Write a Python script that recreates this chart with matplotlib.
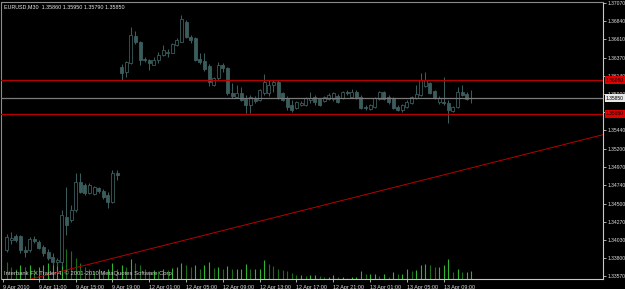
import matplotlib
matplotlib.use('Agg')
import matplotlib.pyplot as plt

W, H = 625, 289
BG = '#000000'
CANDLE = '#3a5c5c'
RED_LINE = '#b80000'
RED_BOX = '#e00000'
FONT = ['Liberation Sans', 'DejaVu Sans']
FS = 3.9
FS_PRICE = 3.6

symbol = 'EURUSD,M30'
last_ohlc = ['1.35860', '1.35950', '1.35790', '1.35850']
copyright_text = 'Interbank FX Trader 4, \u00a9 2001-2010 MetaQuotes Software Corp.'

# 30 minute bars, 9 Apr 2010 08:30 .. 13 Apr 2010 12:00 (weekend gap after bar 24)
opens = [1.3391, 1.3403, 1.3408, 1.3408, 1.3391, 1.3391, 1.3405, 1.3401, 1.3394, 1.3388,
         1.3382, 1.3375, 1.3375, 1.3433, 1.3429, 1.3442, 1.3478, 1.3474, 1.3464, 1.3462,
         1.3470, 1.3466, 1.3461, 1.3452, 1.3489,
         1.3625, 1.3619, 1.3630, 1.3665, 1.3657, 1.3635, 1.3634, 1.3628, 1.3634, 1.3640,
         1.3643, 1.3643, 1.3653, 1.3657, 1.3683, 1.3664, 1.3662, 1.3635, 1.3633, 1.3626,
         1.3602, 1.3611, 1.3628, 1.3624, 1.3592, 1.3587, 1.3592, 1.3584, 1.3576, 1.3585,
         1.3583, 1.3592, 1.3592, 1.3602, 1.3606, 1.3592, 1.3585, 1.3576, 1.3573, 1.3576,
         1.3576, 1.3583, 1.3587, 1.3584, 1.3582, 1.3584, 1.3584, 1.3588, 1.3585, 1.3593,
         1.3587, 1.3593, 1.3587, 1.3574, 1.3571, 1.3574, 1.3584, 1.3593, 1.3587, 1.3585,
         1.3574, 1.3570, 1.3574, 1.3579, 1.3585, 1.3589, 1.3601, 1.3605, 1.3594, 1.3580,
         1.3580, 1.3579, 1.3569, 1.3574, 1.3593, 1.3591, 1.3586]
highs = [1.3411, 1.3414, 1.3411, 1.3410, 1.3396, 1.3407, 1.3408, 1.3403, 1.3397, 1.3392,
         1.3387, 1.3380, 1.3442, 1.3471, 1.3448, 1.3489, 1.3489, 1.3476, 1.3476, 1.3473,
         1.3471, 1.3469, 1.3465, 1.3493, 1.3493,
         1.3629, 1.3633, 1.3676, 1.3671, 1.3658, 1.3638, 1.3635, 1.3638, 1.3644, 1.3653,
         1.3648, 1.3656, 1.3662, 1.3692, 1.3685, 1.3666, 1.3664, 1.3643, 1.3643, 1.3629,
         1.3612, 1.3632, 1.3630, 1.3625, 1.3605, 1.3602, 1.3599, 1.3589, 1.3589, 1.3588,
         1.3597, 1.3616, 1.3608, 1.3608, 1.3608, 1.3593, 1.3588, 1.3583, 1.3582, 1.3582,
         1.3587, 1.3593, 1.3589, 1.3585, 1.3588, 1.3592, 1.3593, 1.3591, 1.3594, 1.3596,
         1.3597, 1.3596, 1.3589, 1.3576, 1.3578, 1.3587, 1.3594, 1.3594, 1.3589, 1.3587,
         1.3576, 1.3578, 1.3583, 1.3588, 1.3602, 1.3617, 1.3619, 1.3606, 1.3596, 1.3588,
         1.3612, 1.3583, 1.3575, 1.3599, 1.3602, 1.3593, 1.3595]
lows = [1.3388, 1.3398, 1.3401, 1.3387, 1.3382, 1.3388, 1.3400, 1.3392, 1.3383, 1.3378,
        1.3371, 1.3370, 1.3370, 1.3410, 1.3426, 1.3439, 1.3464, 1.3461, 1.3462, 1.3461,
        1.3464, 1.3456, 1.3444, 1.3451, 1.3480,
        1.3608, 1.3612, 1.3629, 1.3655, 1.3628, 1.3632, 1.3621, 1.3628, 1.3630, 1.3639,
        1.3638, 1.3643, 1.3652, 1.3657, 1.3662, 1.3656, 1.3633, 1.3629, 1.3620, 1.3601,
        1.3601, 1.3608, 1.3619, 1.3589, 1.3585, 1.3585, 1.3582, 1.3566, 1.3566, 1.3579,
        1.3582, 1.3589, 1.3588, 1.3593, 1.3584, 1.3582, 1.3570, 1.3567, 1.3571, 1.3575,
        1.3575, 1.3579, 1.3576, 1.3575, 1.3580, 1.3583, 1.3582, 1.3579, 1.3584, 1.3589,
        1.3585, 1.3584, 1.3571, 1.3570, 1.3570, 1.3573, 1.3583, 1.3583, 1.3578, 1.3571,
        1.3569, 1.3567, 1.3573, 1.3578, 1.3584, 1.3588, 1.3599, 1.3591, 1.3584, 1.3578,
        1.3576, 1.3553, 1.3567, 1.3573, 1.3588, 1.3583, 1.3579]
closes = [1.3407, 1.3406, 1.3403, 1.3391, 1.3388, 1.3405, 1.3402, 1.3393, 1.3387, 1.3380,
          1.3375, 1.3378, 1.3435, 1.3423, 1.3442, 1.3478, 1.3465, 1.3464, 1.3474, 1.3471,
          1.3466, 1.3458, 1.3452, 1.3489, 1.3487,
          1.3617, 1.3632, 1.3666, 1.3657, 1.3634, 1.3634, 1.3630, 1.3634, 1.3640, 1.3647,
          1.3644, 1.3655, 1.3660, 1.3687, 1.3664, 1.3660, 1.3634, 1.3632, 1.3623, 1.3606,
          1.3611, 1.3628, 1.3624, 1.3592, 1.3588, 1.3592, 1.3583, 1.3576, 1.3587, 1.3582,
          1.3596, 1.3606, 1.3602, 1.3606, 1.3587, 1.3583, 1.3574, 1.3570, 1.3580, 1.3579,
          1.3585, 1.3585, 1.3580, 1.3576, 1.3587, 1.3589, 1.3592, 1.3580, 1.3593, 1.3592,
          1.3593, 1.3585, 1.3573, 1.3573, 1.3576, 1.3585, 1.3593, 1.3584, 1.3580, 1.3573,
          1.3570, 1.3576, 1.3580, 1.3587, 1.3591, 1.3608, 1.3608, 1.3592, 1.3585, 1.3585,
          1.3579, 1.3570, 1.3574, 1.3593, 1.3589, 1.3584, 1.3585]
volumes = [850, 600, 500, 700, 600, 700, 500, 600, 700, 800,
           900, 1000, 1750, 1500, 1400, 1050, 800, 600, 500, 400,
           500, 400, 500, 800, 500,
           700, 600, 1000, 800, 700, 500, 400, 450, 400, 500,
           450, 550, 600, 800, 700, 600, 700, 500, 700, 850,
           550, 600, 500, 650, 500, 500, 500, 750, 500, 500,
           500, 950, 750, 650, 500, 450, 400, 300, 200, 200,
           150, 200, 200, 150, 100, 100, 200, 100, 100, 50,
           100, 100, 400, 250, 250, 250, 150, 250, 100, 350,
           250, 250, 500, 400, 450, 700, 750, 700, 600, 600,
           700, 1000, 350, 500, 350, 350, 400]

time_tick_bars = [7, 15, 23, 31, 39, 47, 55, 63, 71, 79, 87, 95]
time_labels = ['9 Apr 11:00', '9 Apr 15:00', '9 Apr 19:00', '12 Apr 01:00', '12 Apr 05:00',
               '12 Apr 09:00', '12 Apr 13:00', '12 Apr 17:00', '12 Apr 21:00',
               '13 Apr 01:00', '13 Apr 05:00', '13 Apr 09:00']
first_date = '9 Apr 2010'
price_ticks = [1.37070, 1.36840, 1.36610, 1.36370, 1.36140, 1.35900, 1.35670, 1.35440,
               1.35200, 1.34970, 1.34740, 1.34500, 1.34270, 1.34030, 1.33800, 1.33570]
red_levels = [1.36080, 1.35650]
bid_price = 1.35850
trend_a = (5, 1.3353)
trend_b = (120, 1.3524)

VOL_MAX = 13800  # volume scale of the bottom strip


def px(x, y):
    return x / W, 1 - y / H


fig = plt.figure(figsize=(W / 100, H / 100), dpi=100, facecolor=BG)
l, t = px(1.5, 1.5)
r, b = px(603, 279)
ax = fig.add_axes([l, b, r - l, t - b])
ax.set_facecolor(BG)

n = len(opens)
idx = list(range(n))

# volumes underneath, on their own scale
axv = ax.twinx()
axv.set_zorder(ax.get_zorder() - 1)
ax.patch.set_visible(False)
axv.patch.set_facecolor(BG)
vcols = ['#2fb52f' if i > 0 and volumes[i] >= volumes[i - 1] else '#1c6e1c' for i in idx]
axv.vlines(idx, 0, volumes, colors=vcols, linewidth=0.8)
axv.set_ylim(0, VOL_MAX)
axv.set_yticks([])
for s in axv.spines.values():
    s.set_visible(False)

# candles
ax.vlines(idx, lows, highs, colors=CANDLE, linewidth=0.75, zorder=3)
for i in idx:
    o, c = opens[i], closes[i]
    bottom = min(o, c)
    height = max(abs(c - o), 0.00002)
    face = BG if c > o else CANDLE
    ax.bar(i, height, bottom=bottom, width=0.62, color=face, edgecolor=CANDLE,
           linewidth=0.6, zorder=4)

# objects
for lv in red_levels:
    ax.axhline(lv, color=RED_LINE, linewidth=0.9, zorder=5)
ax.axhline(bid_price, color='#7a7a7a', linewidth=0.9, zorder=5)
ax.axline(trend_a, trend_b, color=RED_LINE, linewidth=0.7, zorder=5)

ax.set_xlim(-1.13, 129.63)
ax.set_ylim(1.33533, 1.37091)

ax.yaxis.tick_right()
ax.set_yticks(price_ticks)
ax.set_yticklabels(['%.5f' % p for p in price_ticks])
ax.tick_params(axis='y', colors='#c8c8c8', length=2, width=0.6, pad=1, labelsize=FS_PRICE,
               labelcolor='#e0e0e0')
ax.set_xticks([-0.9] + time_tick_bars)
ax.set_xticklabels([first_date] + time_labels)
ax.tick_params(axis='x', colors='#c8c8c8', length=2.5, width=0.6, pad=1.5, labelsize=FS,
               labelcolor='#e0e0e0')
for lab in ax.get_xticklabels() + ax.get_yticklabels():
    lab.set_family(FONT)
for lab in ax.get_xticklabels():
    lab.set_ha('left')

for side in ['left', 'top']:
    ax.spines[side].set_color('#8c8c8c')
    ax.spines[side].set_linewidth(0.8)
for side in ['right', 'bottom']:
    ax.spines[side].set_color('#c8c8c8')
    ax.spines[side].set_linewidth(0.8)

# price boxes on the scale
boxes = [(red_levels[0], RED_BOX), (bid_price, '#e8e8e8'), (red_levels[1], RED_BOX)]
for lv, fc in boxes:
    ax.annotate('%.5f' % lv, xy=(1, lv), xycoords=('axes fraction', 'data'),
                xytext=(3, 0), textcoords='offset pixels', ha='left', va='center',
                fontsize=FS_PRICE, family=FONT, color='#000000', annotation_clip=False,
                bbox=dict(boxstyle='square,pad=0.3', fc=fc, ec='none'), zorder=10)

hx, hy = px(4, 6.5)
fig.text(hx, hy, symbol + '  ' + ' '.join(last_ohlc), color='#e8e8e8', fontsize=FS,
         family=FONT, ha='left', va='center')
cx, cy = px(4, 273.5)
fig.text(cx, cy, copyright_text, color='#d0d0d0', fontsize=4.2, family=FONT,
         ha='left', va='center', zorder=20)

fig.savefig('out.png', dpi=100, facecolor=BG)
